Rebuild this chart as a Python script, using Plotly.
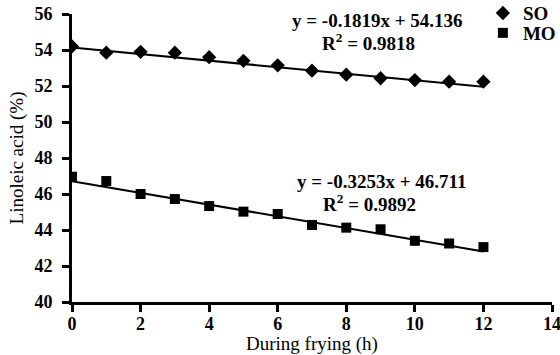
import plotly.graph_objects as go

hours = [0, 1, 2, 3, 4, 5, 6, 7, 8, 9, 10, 11, 12]
so_values = [54.2, 53.85, 53.9, 53.85, 53.6, 53.4, 53.15, 52.85, 52.63, 52.43, 52.33, 52.24, 52.24]
mo_values = [46.96, 46.72, 46.0, 45.72, 45.33, 45.02, 44.89, 44.28, 44.13, 44.04, 43.4, 43.25, 43.05]
so_slope, so_icpt, so_r2 = -0.1819, 54.136, 0.9818
mo_slope, mo_icpt, mo_r2 = -0.3253, 46.711, 0.9892
x_ticks = [0, 2, 4, 6, 8, 10, 12, 14]
y_ticks = [40, 42, 44, 46, 48, 50, 52, 54, 56]

FONT = "Liberation Serif"
fig = go.Figure()

fit_x = [0, 12]
fig.add_trace(go.Scatter(x=fit_x, y=[so_icpt + so_slope * v for v in fit_x], mode="lines",
                         line=dict(color="black", width=2), showlegend=False, hoverinfo="skip"))
fig.add_trace(go.Scatter(x=fit_x, y=[mo_icpt + mo_slope * v for v in fit_x], mode="lines",
                         line=dict(color="black", width=2), showlegend=False, hoverinfo="skip"))
fig.add_trace(go.Scatter(x=hours, y=so_values, mode="markers", name="SO", legend="legend",
                         marker=dict(symbol="diamond", size=11, color="black")))
fig.add_trace(go.Scatter(x=hours, y=mo_values, mode="markers", name="MO", legend="legend2",
                         marker=dict(symbol="square", size=10, color="black")))

ann_font = dict(family=FONT, size=19, color="black")
fig.add_annotation(x=8.9, y=55.62, xref="x", yref="y", showarrow=False,
                   text=f"<b>y = {so_slope}x + {so_icpt}</b>", font=ann_font)
fig.add_annotation(x=8.64, y=54.45, xref="x", yref="y", showarrow=False,
                   text=f"<b>R<sup>2</sup> = {so_r2}</b>", font=ann_font)
fig.add_annotation(x=9.04, y=46.68, xref="x", yref="y", showarrow=False,
                   text=f"<b>y = {mo_slope}x + {mo_icpt}</b>", font=ann_font)
fig.add_annotation(x=8.69, y=45.5, xref="x", yref="y", showarrow=False,
                   text=f"<b>R<sup>2</sup> = {mo_r2}</b>", font=ann_font)

axis_common = dict(showgrid=False, zeroline=False, showline=True, linecolor="black", linewidth=3,
                   ticks="outside", ticklen=7, tickwidth=3, tickcolor="black",
                   ticklabeloverflow="allow",
                   tickfont=dict(family=FONT, size=18, color="black", weight="bold"))

fig.update_xaxes(range=[0, 14], tickvals=x_ticks, ticktext=[str(v) for v in x_ticks],
                 ticklabelstandoff=-4,
                 title=dict(text="During frying (h)", font=dict(family=FONT, size=19, color="black"), standoff=2),
                 **axis_common)
fig.update_yaxes(range=[40, 56], tickvals=y_ticks, ticktext=[str(v) for v in y_ticks],
                 ticklabelstandoff=6,
                 title=dict(text="Linoleic acid (%)", font=dict(family=FONT, size=19, color="black"), standoff=6),
                 **axis_common)

leg_common = dict(xanchor="left", yanchor="top", bgcolor="rgba(0,0,0,0)",
                  font=dict(family=FONT, size=19, color="black", weight="bold"), itemwidth=30)
fig.update_layout(
    width=560, height=355,
    margin=dict(l=72, r=8, t=14, b=53, autoexpand=False),
    plot_bgcolor="white", paper_bgcolor="white",
    legend=dict(x=0.856, y=1.069, **leg_common),
    legend2=dict(x=0.856, y=1.0, **leg_common),
)

fig.write_html("out.html")
